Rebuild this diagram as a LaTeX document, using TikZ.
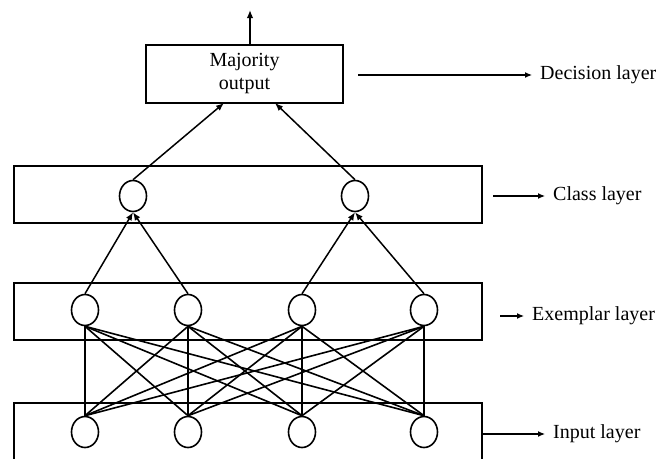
\documentclass[tikz,border=0pt]{standalone}
\usepackage{fontspec}
\setmainfont{Liberation Serif}
\usetikzlibrary{shapes.geometric,arrows.meta}
\begin{document}
\begin{tikzpicture}[x=1pt,y=-1pt,
  neuron/.style={draw,ellipse,minimum width=27pt,minimum height=31pt,inner sep=0pt,line width=1.6pt},
  layerbox/.style={draw,line width=1.4pt},
  link/.style={line width=1.6pt},
  arr/.style={line width=1.5pt,-{Latex[length=8pt,width=6.5pt]}},
  larr/.style={line width=1.2pt,-{Latex[length=7pt,width=6pt]},shorten >=8pt},
  lbl/.style={anchor=west,font=\fontsize{20}{24}\selectfont,inner sep=0pt}]
\clip (0,0) rectangle (660,458);
\useasboundingbox (0,0) rectangle (660,458);
% boxes
\node[layerbox,minimum width=197pt,minimum height=58pt,inner sep=0pt,align=center,font=\fontsize{20}{23}\selectfont] (maj) at (244.5,74) {Majority\\output};
\draw[layerbox] (14,166) rectangle (482,223);
\draw[layerbox] (14,283) rectangle (482,340);
\draw[layerbox] (14,403) rectangle (482,470);
% neurons
\node[neuron] (c1) at (133,196) {};
\node[neuron] (c2) at (355,196) {};
\foreach \n/\x in {1/85,2/188,3/302,4/424}{
  \node[neuron] (e\n) at (\x,310) {};
  \node[neuron] (i\n) at (\x,432) {};
}
% full connections
\foreach \a in {1,2,3,4}{
  \foreach \b in {1,2,3,4}{
    \draw[link] (e\a.south) -- (i\b.north);
  }
}
% exemplar -> class
\draw[arr] (e1.north) -- (c1.south);
\draw[arr] (e2.north) -- (c1.south);
\draw[arr] (e3.north) -- (c2.south);
\draw[arr] (e4.north) -- (c2.south);
% class -> majority
\coordinate (m1) at (224,103);
\coordinate (m2) at (275,103);
\draw[arr] (c1.north) -- (m1);
\draw[arr] (c2.north) -- (m2);
% output
\coordinate (out) at (250,10);
\draw[arr] (maj.north -| out) -- (out);
% labels
\node[lbl] (ld) at (540,75) {Decision layer};
\node[lbl] (lc) at (553,196) {Class layer};
\node[lbl] (le) at (532,316) {Exemplar layer};
\node[lbl] (li) at (553,434) {Input layer};
\coordinate (ad) at (358,75);
\coordinate (ac) at (493,196);
\coordinate (ae) at (500,316);
\coordinate (ai) at (482,434);
\draw[larr] (ad) -- (ld.west);
\draw[larr] (ac) -- (lc.west);
\draw[larr] (ae) -- (le.west);
\draw[larr] (ai) -- (li.west);
\end{tikzpicture}
\end{document}
